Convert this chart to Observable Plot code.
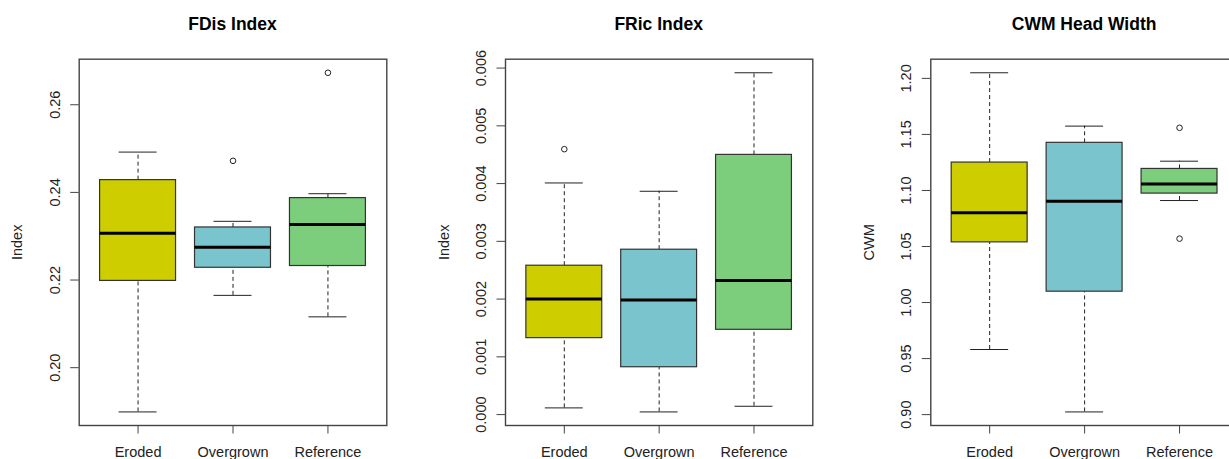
<!DOCTYPE html>
<html>
<head>
<meta charset="utf-8">
<script src="https://cdn.jsdelivr.net/npm/d3@7"></script>
<script src="https://cdn.jsdelivr.net/npm/@observablehq/plot@0.6"></script>
<style>
  html, body { margin: 0; padding: 0; background: #fff; overflow: hidden; }
  #wrap { position: relative; width: 1229px; height: 459px; overflow: hidden;
          font-family: "Liberation Sans", Arial, sans-serif; }
  .panel { position: absolute; top: 0; }
  .title { position: absolute; top: 14px; font-weight: bold; font-size: 17.5px;
           line-height: 20px; text-align: center; color: #000; white-space: nowrap;
           transform: translateX(-50%); }
  svg { overflow: visible; }
</style>
</head>
<body>
<div id="wrap"></div>
<script>
// ---------- data ----------
const categories = ["Eroded", "Overgrown", "Reference"];
const boxColors = ["#CDCD00", "#7AC5CD", "#7CCD7C"];

// FDis Index
const fdisLower    = [0.1899, 0.2165, 0.2116];
const fdisQ1       = [0.2198, 0.2228, 0.2232];
const fdisMedian   = [0.2307, 0.2275, 0.2327];
const fdisQ3       = [0.2428, 0.2320, 0.2387];
const fdisUpper    = [0.2492, 0.2334, 0.2397];
const fdisOutliers = [[], [0.2472], [0.2673]];
const fdisTicks      = [0.20, 0.22, 0.24, 0.26];
const fdisTickLabels = ["0.20", "0.22", "0.24", "0.26"];

// FRic Index
const fricLower    = [0.000116, 0.000046, 0.000144];
const fricQ1       = [0.001324, 0.000820, 0.001468];
const fricMedian   = [0.002000, 0.001983, 0.002324];
const fricQ3       = [0.002578, 0.002855, 0.004497];
const fricUpper    = [0.004011, 0.003867, 0.005919];
const fricOutliers = [[0.004596], [], []];
const fricTicks      = [0, 0.001, 0.002, 0.003, 0.004, 0.005, 0.006];
const fricTickLabels = ["0.000", "0.001", "0.002", "0.003", "0.004", "0.005", "0.006"];

// CWM Head Width
const cwmLower    = [0.9581, 0.9024, 1.0910];
const cwmQ1       = [1.0537, 1.0097, 1.0972];
const cwmMedian   = [1.0802, 1.0903, 1.1058];
const cwmQ3       = [1.1249, 1.1425, 1.1192];
const cwmUpper    = [1.2050, 1.1574, 1.1261];
const cwmOutliers = [[], [], [1.1559, 1.0570]];
const cwmTicks      = [0.90, 0.95, 1.00, 1.05, 1.10, 1.15, 1.20];
const cwmTickLabels = ["0.90", "0.95", "1.00", "1.05", "1.10", "1.15", "1.20"];

const panels = [
  {title: "FDis Index", ylab: "Index", lower: fdisLower, q1: fdisQ1, median: fdisMedian, q3: fdisQ3, upper: fdisUpper, outliers: fdisOutliers, ticks: fdisTicks, tickLabels: fdisTickLabels,
   left: 0, width: 410, mL: 78.7, mR: 23.7},
  {title: "FRic Index", ylab: "Index", lower: fricLower, q1: fricQ1, median: fricMedian, q3: fricQ3, upper: fricUpper, outliers: fricOutliers, ticks: fricTicks, tickLabels: fricTickLabels,
   left: 410, width: 410, mL: 95, mR: 7.7},
  {title: "CWM Head Width", ylab: "CWM", lower: cwmLower, q1: cwmQ1, median: cwmMedian, q3: cwmQ3, upper: cwmUpper, outliers: cwmOutliers, ticks: cwmTicks, tickLabels: cwmTickLabels,
   left: 820, width: 420, mL: 110.3, mR: 2.1}
];

const FONT = "Liberation Sans, Arial, sans-serif";
const wrap = document.getElementById("wrap");
const H = 459, mT = 58.7, mB = 34;

for (const p of panels) {
  const idx = categories.map((_, i) => i);
  const pos = i => i + 1;
  const allVals = [...p.lower, ...p.upper, ...p.outliers.flat()];
  const lo = d3.min(allVals), hi = d3.max(allVals), pad = (hi - lo) * 0.04;
  const n = categories.length;
  const xPad = n * 0.04;
  const outs = idx.flatMap(i => p.outliers[i].map(v => ({x: pos(i), v})));

  const chart = Plot.plot({
    width: p.width, height: H,
    marginLeft: p.mL, marginRight: p.mR, marginTop: mT, marginBottom: mB,
    style: {fontFamily: FONT, background: "transparent", color: "#222"},
    x: {type: "linear", domain: [0.5 - xPad, n + 0.5 + xPad], axis: null},
    y: {domain: [lo - pad, hi + pad], axis: null},
    marks: [
      // whiskers (dashed)
      Plot.ruleX(idx, {x: pos, y1: i => p.q3[i], y2: i => p.upper[i], stroke: "#222", strokeWidth: 1, strokeDasharray: "4,3"}),
      Plot.ruleX(idx, {x: pos, y1: i => p.lower[i], y2: i => p.q1[i], stroke: "#222", strokeWidth: 1, strokeDasharray: "4,3"}),
      // staples
      Plot.ruleY(idx, {y: i => p.upper[i], x1: i => pos(i) - 0.2, x2: i => pos(i) + 0.2, stroke: "#222", strokeWidth: 1}),
      Plot.ruleY(idx, {y: i => p.lower[i], x1: i => pos(i) - 0.2, x2: i => pos(i) + 0.2, stroke: "#222", strokeWidth: 1}),
      // boxes
      Plot.rect(idx, {x1: i => pos(i) - 0.4, x2: i => pos(i) + 0.4, y1: i => p.q1[i], y2: i => p.q3[i],
                      fill: i => boxColors[i], stroke: "#333", strokeWidth: 1.2}),
      // medians
      Plot.ruleY(idx, {y: i => p.median[i], x1: i => pos(i) - 0.4, x2: i => pos(i) + 0.4, stroke: "#000", strokeWidth: 3}),
      // outliers
      Plot.dot(outs, {x: "x", y: "v", r: 2.8, stroke: "#222", strokeWidth: 1, fill: "none"}),
      // frame
      Plot.frame({stroke: "#444", strokeWidth: 1.4}),
      // y axis
      Plot.axisY({ticks: p.ticks, tickSize: 8.5, tickPadding: 11, tickRotate: -90,
                  tickFormat: v => p.tickLabels[p.ticks.indexOf(v)],
                  fontSize: 14.5, stroke: "#444", fill: "#222", label: null}),
      // x axis
      Plot.axisX({ticks: idx.map(pos), tickSize: 8.5, tickPadding: 13,
                  tickFormat: v => categories[v - 1],
                  fontSize: 14.5, stroke: "#444", fill: "#222", label: null}),
      // y axis title
      Plot.text([p.ylab], {text: d => d, frameAnchor: "left", dx: -61.4, rotate: -90,
                           textAnchor: "middle", lineAnchor: "middle", fontSize: 14.5, fill: "#222"})
    ]
  });

  const div = document.createElement("div");
  div.className = "panel";
  div.style.left = p.left + "px";
  div.style.width = p.width + "px";
  div.style.height = H + "px";
  div.appendChild(chart);

  const t = document.createElement("div");
  t.className = "title";
  t.textContent = p.title;
  const plotW = p.width - p.mL - p.mR;
  t.style.left = (p.mL + plotW / 2) + "px";
  div.appendChild(t);

  wrap.appendChild(div);
}
</script>
</body>
</html>
